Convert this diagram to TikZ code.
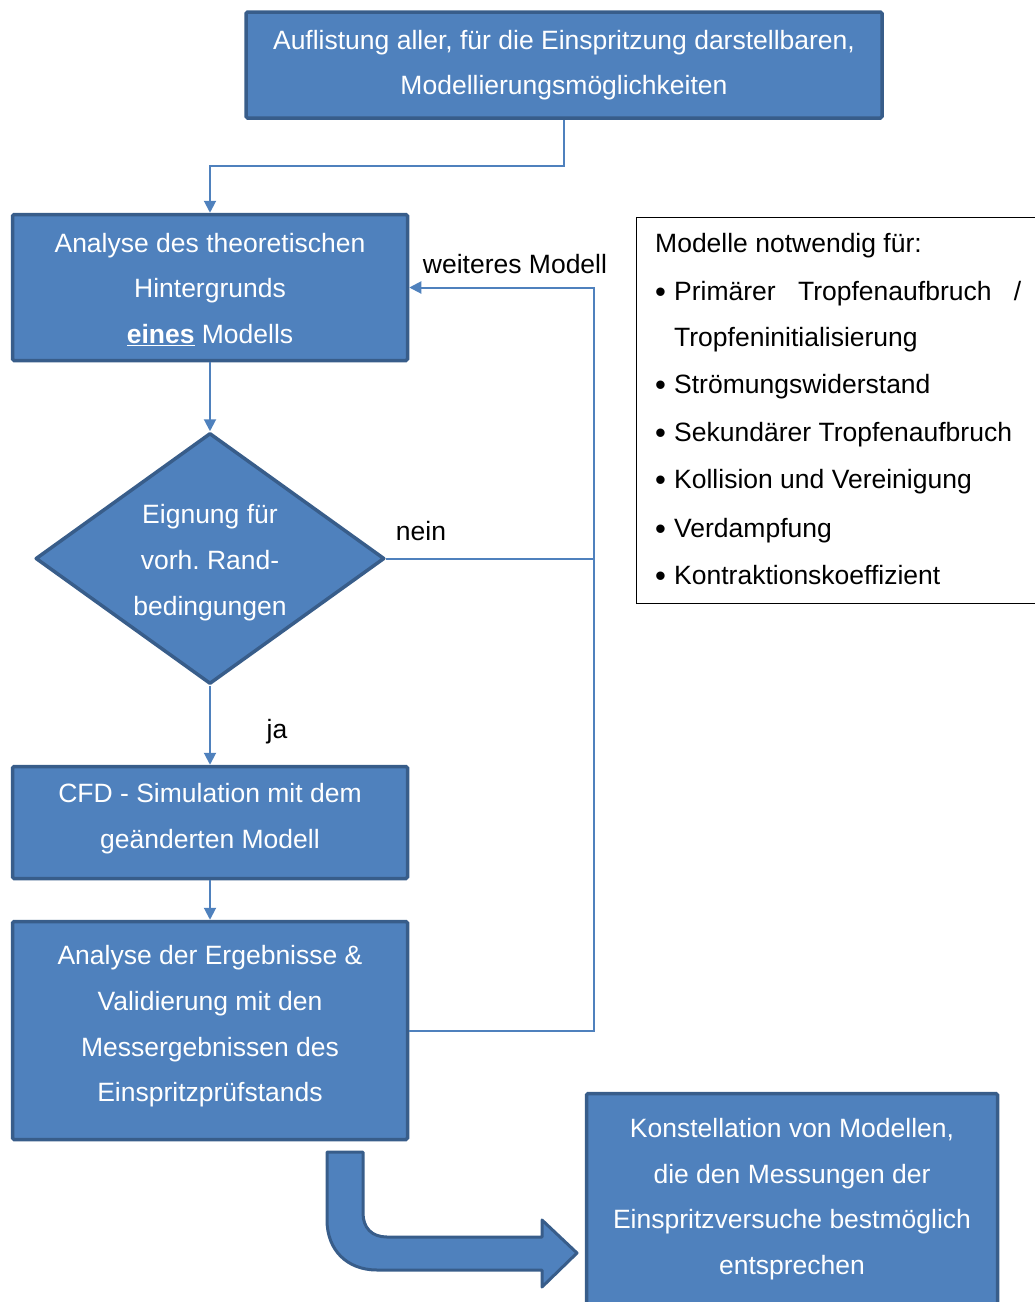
\documentclass[tikz,border=0pt]{standalone}
\usepackage{fontspec}
\setmainfont{Liberation Sans}
\usetikzlibrary{shapes.geometric,arrows.meta}
\definecolor{boxfill}{HTML}{4F81BD}
\definecolor{boxline}{HTML}{385D8A}
% list bullet followed by the hanging indent
\newcommand\listdot{\makebox[19pt][l]{\raisebox{-2pt}{\fontsize{31}{31}\selectfont\textbullet}}}
\begin{document}
\begin{tikzpicture}[x=1pt,y=-1pt,
  font=\fontsize{26.5}{45.7}\selectfont\frenchspacing,
  flowbox/.style={draw=boxline, line width=3.5pt, fill=boxfill,
    rounded corners=1.5pt, inner sep=0pt},
  boxtext/.style={inner sep=0pt, text=white, align=center},
  decision/.style={diamond, draw=boxline, line width=3.5pt, fill=boxfill,
    inner sep=0pt, line join=round},
  link/.style={draw=boxfill, line width=2pt},
  linkarrow/.style={link, -{Triangle[length=12pt,width=12pt]}},
  plain/.style={inner sep=0pt},
  listline/.style={inner sep=0pt, anchor=base west}]

\clip (0,0) rectangle (1035,1302);

% process boxes and their texts
\node[flowbox, minimum width=636, minimum height=106] (list) at (564,65) {};
\node[boxtext] (listtext) at (list.center)
  {Auflistung aller, für die Einspritzung darstellbaren,\\Modellierungsmöglichkeiten};
\node[flowbox, minimum width=395, minimum height=146] (theory) at (210,287.5) {};
\node[boxtext] (theorytext) at ([yshift=-2pt]theory.center)
  {Analyse des theoretischen\\Hintergrunds\\\underline{\textbf{eines}} Modells};
\node[decision, minimum width=349, minimum height=251] (fit) at (210,558.5) {};
\node[boxtext] (fittext) at ([yshift=-4pt]fit.center)
  {Eignung für\\vorh. Rand-\\bedingungen};
\node[flowbox, minimum width=395, minimum height=112] (cfd) at (210,822.5) {};
\node[boxtext] (cfdtext) at ([yshift=4pt]cfd.center)
  {CFD - Simulation mit dem\\geänderten Modell};
\node[flowbox, minimum width=395, minimum height=218] (eval) at (210,1030.5) {};
\node[boxtext] (evaltext) at ([yshift=4pt]eval.center)
  {Analyse der Ergebnisse \&\\Validierung mit den\\Messergebnissen des\\Einspritzprüfstands};
\node[flowbox, minimum width=411, minimum height=215] (result) at (792,1201) {};
\node[boxtext] (resulttext) at ([yshift=2pt]result.center)
  {Konstellation von Modellen,\\die den Messungen der\\Einspritzversuche bestmöglich\\entsprechen};

% side box listing the required models
\node[draw=black, line width=1.3pt, minimum width=410, minimum height=386,
  anchor=north west, inner sep=0pt] (needs) at (635.5,216.5) {};
\node[listline] (n0) at (655,252) {Modelle notwendig für:};
\node[listline] (n1) at (655,300) {\listdot\makebox[347pt][s]{Primärer\hfill Tropfenaufbruch\hfill /}};
\node[listline] (n2) at (655,346) {\hspace*{19pt}Tropfeninitialisierung};
\node[listline] (n3) at (655,393) {\listdot Strömungswiderstand};
\node[listline] (n4) at (655,441) {\listdot Sekundärer Tropfenaufbruch};
\node[listline] (n5) at (655,488) {\listdot Kollision und Vereinigung};
\node[listline] (n6) at (655,537) {\listdot Verdampfung};
\node[listline] (n7) at (655,584) {\listdot Kontraktionskoeffizient};

% connectors
\coordinate (drop) at (564,166);
\coordinate (joinno) at (594,558.5);
\coordinate (back) at (594,1030.5);
\draw[linkarrow] (list.south) -- (drop) -| (theory.north);
\draw[linkarrow] (theory.south) -- (fit.north);
\draw[linkarrow] (fit.south) -- (cfd.north);
\draw[linkarrow] (cfd.south) -- (eval.north);
\draw[link] (fit.east) -- (joinno);
\draw[linkarrow] (eval.east) -- (back) |- (theory.east);

% connector labels
\node[plain, anchor=base] (more) at (515,273) {weiteres Modell};
\node[plain, anchor=base] (no) at (421,540) {nein};
\node[plain, anchor=base] (yes) at (277,738) {ja};

% bent block arrow towards the result
\draw[draw=boxline, fill=boxfill, line width=3pt, line join=round]
  (327,1152) -- (363,1152) -- (363,1213)
  .. controls (363,1228) and (372,1237) .. (387,1237)
  -- (542,1237) -- (542,1220) -- (577,1253) -- (542,1287) -- (542,1270)
  -- (377,1270)
  .. controls (347,1270) and (327,1250) .. (327,1220) -- cycle;
\end{tikzpicture}
\end{document}
